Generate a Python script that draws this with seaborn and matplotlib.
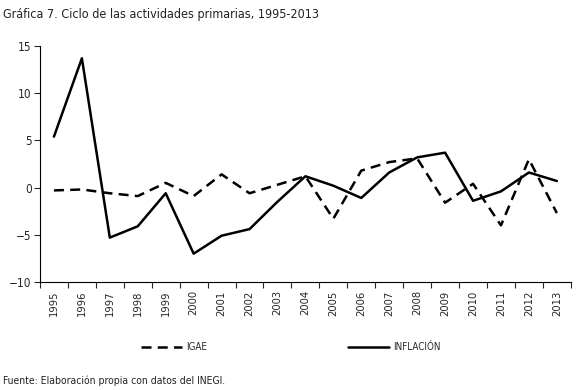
import seaborn as sns
import matplotlib
matplotlib.use("Agg")
import matplotlib.pyplot as plt
import numpy as np
import pandas as pd

# Datos
anios = [str(a) for a in range(1995, 2014)]
igae = [-0.3, -0.2, -0.6, -0.9, 0.5, -0.9, 1.4, -0.6, 0.3, 1.2,
        -3.3, 1.8, 2.7, 3.1, -1.6, 0.4, -4.0, 3.0, -2.7]
inflacion = [5.4, 13.7, -5.3, -4.1, -0.6, -7.0, -5.1, -4.4, -1.5, 1.2,
             0.2, -1.1, 1.6, 3.2, 3.7, -1.4, -0.4, 1.6, 0.7]

df = pd.DataFrame({"x": np.arange(len(anios)), "IGAE": igae, "INFLACIÓN": inflacion})

sns.set_style("white")
plt.rcParams['font.family'] = ['DejaVu Sans']
plt.rcParams['font.stretch'] = 'condensed'

fig = plt.figure(figsize=(5.76, 3.9), dpi=100)
ax = fig.add_axes([0.0694, 0.277, 0.9216, 0.605])

sns.lineplot(data=df, x="x", y="IGAE", ax=ax, color="black", linewidth=1.8,
             linestyle=(0, (4, 2.5)), label="IGAE")
sns.lineplot(data=df, x="x", y="INFLACIÓN", ax=ax, color="black", linewidth=1.8,
             label="INFLACIÓN")

ax.set_xlim(-0.5, len(anios) - 0.5)
ax.set_ylim(-10, 15)
ax.set_yticks(np.arange(-10, 16, 5))
ax.set_xticks(np.arange(len(anios)))
ax.set_xticklabels(anios, rotation=90, fontsize=8)
ax.set_xticks(np.arange(-0.5, len(anios), 1), minor=True)
ax.tick_params(axis="x", which="major", length=0, pad=6)
ax.tick_params(axis="x", which="minor", length=4, width=0.8, direction="out", bottom=True)
ax.tick_params(axis="y", length=4, width=0.8, direction="out", left=True, labelsize=8.5, pad=2)
ax.set_xlabel("")
ax.set_ylabel("")

for s in ["top", "right"]:
    ax.spines[s].set_visible(False)
for s in ["left", "bottom"]:
    ax.spines[s].set_color("black")
    ax.spines[s].set_linewidth(0.8)

ax.get_legend().remove()
handles, labels = ax.get_legend_handles_labels()
fig.legend(handles, labels, loc="center", bbox_to_anchor=(0.505, 0.11), ncol=2,
           frameon=False, fontsize=7, handlelength=4.2, columnspacing=14.5,
           handletextpad=0.4)

fig.text(0.006, 0.963, "Gráfica 7. Ciclo de las actividades primarias, 1995-2013",
         fontsize=9, va="center", ha="left", color="#222222")
fig.text(0.005, 0.025, "Fuente: Elaboración propia con datos del INEGI.",
         fontsize=7.5, va="center", ha="left", color="#222222")

fig.savefig("out.png", dpi=100)
